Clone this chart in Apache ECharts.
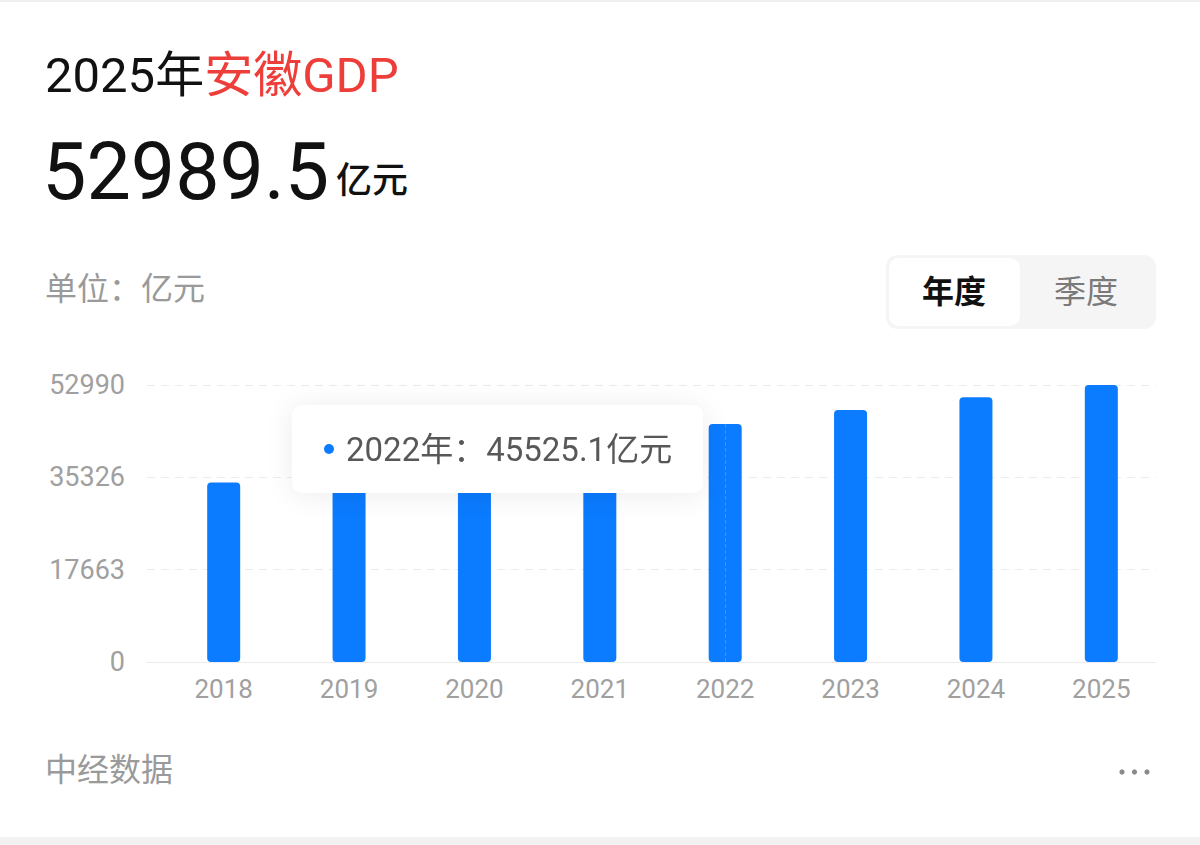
<!DOCTYPE html>
<html>
<head>
<meta charset="utf-8">
<script src="https://cdn.jsdelivr.net/npm/echarts@6/dist/echarts.min.js"></script>
<style>
html,body{margin:0;padding:0;background:#fff;}
#chart{width:1200px;height:845px;}
</style>
</head>
<body>
<div id="chart"></div>
<script>
// ---- data ----
const years = ['2018', '2019', '2020', '2021', '2022', '2023', '2024', '2025'];
const gdpValues = [34320, 37114, 38681, 42959, 45525.1, 48210, 50640, 52989.5];
const yTickLabels = ['0', '17663', '35326', '52990'];
const yMax = 52990;
const headlineYear = '2025年';
const headlineRegion = '安徽GDP';
const headlineValue = '52989.5';
const unitText = '亿元';
const highlightIndex = 4;

const FONT = 'Roboto, "Noto Sans CJK SC", sans-serif';
const BLUE = '#0b7bff';

const chart = echarts.init(document.getElementById('chart'), null, {renderer: 'svg'});

const option = {
  animation: false,
  backgroundColor: '#ffffff',
  textStyle: {fontFamily: FONT},
  grid: [
    {left: 147, right: 44, top: 385, bottom: 183},
    {left: 161, right: 36, top: 385, bottom: 183}
  ],
  xAxis: [
    {
      type: 'category', gridIndex: 0, data: years,
      axisLine: {show: true, lineStyle: {color: '#ececec', width: 1}},
      axisTick: {show: false}, axisLabel: {show: false},
      axisPointer: {show: false}
    },
    {
      type: 'category', gridIndex: 1, data: years,
      axisLine: {show: false}, axisTick: {show: false},
      axisLabel: {color: '#a0a0a0', fontSize: 26, margin: 14, fontFamily: FONT},
      axisPointer: {type: 'line', lineStyle: {color: 'rgba(255,255,255,0.2)', type: 'dashed', width: 1}, label: {show: false}}
    }
  ],
  yAxis: [
    {
      type: 'value', gridIndex: 0, min: 0, max: yMax, interval: yMax / 3,
      axisLine: {show: false}, axisTick: {show: false},
      splitLine: {show: true, lineStyle: {color: '#ececec', type: [8, 6], width: 1}},
      axisLabel: {
        color: '#a0a0a0', fontSize: 27, margin: 22, fontFamily: FONT,
        formatter: function (v) {
          const i = Math.round(v / (yMax / 3));
          return yTickLabels[Math.max(0, Math.min(yTickLabels.length - 1, i))];
        }
      },
      axisPointer: {show: false}
    },
    {
      type: 'value', gridIndex: 1, min: 0, max: yMax, show: false,
      splitLine: {show: false}, axisPointer: {show: false}
    }
  ],
  tooltip: {
    trigger: 'axis',
    triggerOn: 'none',
    alwaysShowContent: true,
    transitionDuration: 0,
    showDelay: 0,
    position: [292, 405],
    backgroundColor: '#ffffff',
    borderWidth: 0,
    padding: 0,
    extraCssText: 'width:411px;height:88px;box-sizing:border-box;padding-left:32px;border-radius:10px;box-shadow:0 2px 30px rgba(0,0,0,0.08);display:flex;align-items:center;',
    formatter: function (params) {
      const p = Array.isArray(params) ? params[0] : params;
      return '<span style="display:inline-block;width:10px;height:10px;border-radius:50%;background:' + BLUE +
        ';margin-right:12px;"></span><span style="font-family:' + FONT.replace(/"/g, "'") +
        ';font-size:33px;color:#585858;">' + p.name + '年：' + p.value + unitText + '</span>';
    }
  },
  series: [{
    type: 'bar',
    xAxisIndex: 1,
    yAxisIndex: 1,
    data: gdpValues,
    barWidth: 33,
    itemStyle: {color: BLUE, borderRadius: 4},
    emphasis: {disabled: true}
  }],
  graphic: [
    {type: 'rect', left: 0, top: 0, shape: {width: 1200, height: 2}, style: {fill: '#efefef'}},
    {type: 'rect', left: 0, top: 837, shape: {width: 1200, height: 8}, style: {fill: '#f2f2f2'}},
    {
      type: 'text', left: 45, top: 51,
      style: {
        text: '{a|' + headlineYear + '}{b|' + headlineRegion + '}',
        rich: {
          a: {fontSize: 49, fontWeight: 'normal', fill: '#111111', fontFamily: FONT},
          b: {fontSize: 49, fontWeight: 'normal', fill: '#ee3e3a', fontFamily: FONT}
        }
      }
    },
    {
      type: 'text', left: 42, top: 132,
      style: {text: headlineValue, fontSize: 79, fontWeight: 'normal', fill: '#111111', fontFamily: FONT}
    },
    {
      type: 'text', left: 336, top: 163,
      style: {text: unitText, fontSize: 36, fontWeight: 500, fill: '#111111', fontFamily: FONT}
    },
    {
      type: 'text', left: 45, top: 273,
      style: {text: '单位：' + unitText, fontSize: 32, fill: '#9a9a9a', fontFamily: FONT}
    },
    {type: 'rect', left: 886, top: 255, shape: {width: 270, height: 74, r: 12}, style: {fill: '#f5f5f5'}},
    {type: 'rect', left: 889, top: 258, shape: {width: 131, height: 68, r: 10}, style: {fill: '#ffffff'}},
    {
      type: 'text', x: 954, y: 292,
      style: {text: '年度', fontSize: 32, fontWeight: 'bold', fill: '#111111', align: 'center', verticalAlign: 'middle', fontFamily: FONT}
    },
    {
      type: 'text', x: 1086, y: 292,
      style: {text: '季度', fontSize: 32, fill: '#7a7a7a', align: 'center', verticalAlign: 'middle', fontFamily: FONT}
    },
    {
      type: 'text', left: 45, top: 754,
      style: {text: '中经数据', fontSize: 32, fill: '#9a9a9a', fontFamily: FONT}
    },
    {type: 'circle', shape: {cx: 1122, cy: 772, r: 2.6}, style: {fill: '#8a8a8a'}},
    {type: 'circle', shape: {cx: 1134.5, cy: 772, r: 2.6}, style: {fill: '#8a8a8a'}},
    {type: 'circle', shape: {cx: 1147, cy: 772, r: 2.6}, style: {fill: '#8a8a8a'}}
  ]
};

chart.setOption(option);
chart.dispatchAction({type: 'showTip', seriesIndex: 0, dataIndex: highlightIndex});
</script>
</body>
</html>
